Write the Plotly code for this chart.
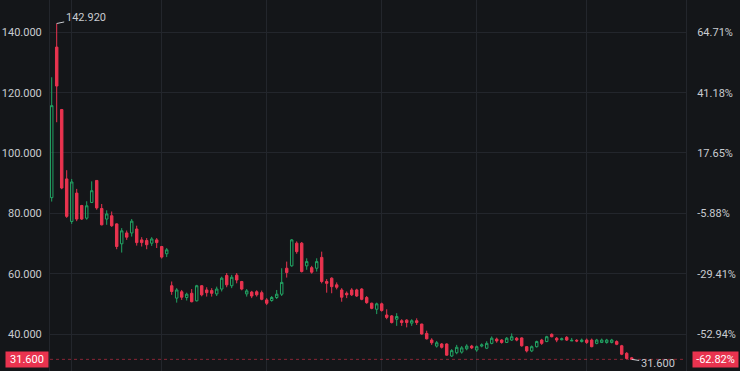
import plotly.graph_objects as go

opens = [85.2,135.1,114.4,91.4,77.3,86.7,82.6,78.4,83.6,90.9,81.6,78.1,79.2,76.5,69.9,73.5,73.5,74.8,71.2,71.0,
         70.1,71.2,69.0,66.6,56.0,51.9,54.0,52.1,53.5,51.0,56.0,54.6,54.4,53.3,54.9,59.4,56.0,59.5,57.4,53.3,
         53.9,54.0,53.7,51.3,51.1,52.1,53.2,61.8,62.6,70.1,70.1,62.6,62.0,61.8,65.4,57.4,58.5,56.3,54.6,53.5,
         54.6,54.6,54.9,52.1,50.2,48.2,50.0,46.3,46.0,44.9,44.4,44.6,43.6,44.4,43.3,40.2,38.0,36.0,36.7,36.7,
         32.7,33.8,34.0,35.1,36.0,34.7,36.0,35.3,36.9,38.3,38.0,37.2,38.0,38.6,38.7,35.8,34.4,35.8,38.0,37.5,
         39.9,38.6,38.1,38.9,37.7,37.9,37.5,38.0,38.0,36.9,37.2,37.2,37.2,37.5,36.1,33.6,32.1]
highs = [125.1,142.92,114.6,94.3,91.4,88.1,82.8,84.0,90.6,91.0,83.1,81.0,80.6,76.7,75.1,74.3,78.1,75.9,72.1,71.8,
         72.1,71.8,69.2,68.5,57.4,55.2,54.6,53.7,54.9,56.3,56.2,55.5,55.2,55.7,59.0,60.2,59.6,60.2,57.6,54.9,
         54.3,54.5,54.4,51.9,52.6,54.6,61.8,64.0,71.5,70.7,70.5,65.1,62.6,65.1,67.3,58.2,58.8,57.1,55.2,54.1,
         55.2,55.0,55.2,52.6,50.4,50.4,50.4,48.2,46.3,46.9,44.9,44.9,44.9,45.2,43.4,41.1,38.6,37.7,37.0,36.9,
         35.0,36.4,36.0,36.6,36.4,36.2,36.9,37.6,39.2,38.8,38.3,39.0,40.2,39.0,38.9,36.0,36.2,37.8,38.4,39.4,
         40.2,39.0,38.8,39.3,38.7,38.3,38.5,38.5,38.5,38.4,38.5,38.4,38.4,37.9,36.4,34.0,32.4]
lows = [83.9,110.2,88.0,78.5,76.5,77.4,77.8,77.9,83.4,81.2,76.0,76.2,75.5,68.1,67.0,71.2,72.3,69.3,69.0,68.1,
        69.2,68.5,65.0,65.5,53.0,50.4,51.3,51.1,50.5,50.8,52.5,52.4,52.4,52.6,54.1,55.5,55.2,56.8,54.5,52.4,
        51.9,52.4,51.2,49.6,50.7,51.6,52.6,58.7,62.3,66.6,60.4,61.3,60.0,60.7,56.8,53.7,53.5,54.8,50.7,51.9,
        52.6,52.3,51.2,50.0,48.2,46.6,47.4,44.9,43.5,42.7,42.7,42.2,42.7,43.0,39.8,38.2,36.4,35.5,35.2,32.8,
        32.4,33.3,33.5,34.6,35.0,34.1,35.6,35.0,36.6,37.1,36.8,37.0,37.7,37.6,35.8,33.9,34.0,35.5,36.4,37.3,
        38.9,37.3,37.9,37.7,37.7,37.3,37.2,36.7,35.6,36.6,37.0,36.8,36.9,36.3,33.0,31.7,31.6]
closes = [115.7,122.2,88.4,79.0,90.4,78.1,78.1,82.5,87.5,81.8,76.2,79.8,75.9,69.0,74.2,72.1,77.4,70.3,70.3,69.6,
          71.5,70.3,65.5,67.9,54.1,54.6,52.2,53.2,50.7,56.0,53.0,53.7,53.5,54.9,58.5,56.3,58.8,57.9,54.9,54.3,
          52.6,53.0,51.5,50.2,52.1,53.2,57.1,60.4,71.2,67.3,60.7,64.0,60.5,64.0,57.4,56.8,55.7,55.5,52.2,53.0,
          53.0,52.6,51.5,50.4,48.5,50.0,47.8,45.5,43.8,45.8,43.8,43.8,44.4,43.8,40.0,38.4,37.1,37.1,35.6,33.0,
          34.5,35.6,35.4,36.0,35.4,35.8,36.4,36.9,38.6,37.7,37.2,38.6,39.1,38.0,36.1,34.4,35.8,37.5,36.9,39.1,
          39.1,38.0,38.4,38.0,37.9,37.7,38.0,37.2,35.8,38.0,38.0,38.0,38.0,36.6,33.3,31.9,31.6]
base_price = 85.0
price_ticks = [40, 60, 80, 100, 120, 140]
grid_positions = [4, 22, 43, 66, 85, 107]

xs = list(range(len(closes)))

BG = "#141619"
GRID = "#23262c"
TXT = "#c8cbd0"
UP = "#22a363"
DOWN = "#e9334f"
FONT = "Roboto"

fig = go.Figure()
fig.add_trace(go.Candlestick(
    x=xs, open=opens, high=highs, low=lows, close=closes,
    increasing=dict(line=dict(color=UP, width=1), fillcolor="rgba(0,0,0,0)"),
    decreasing=dict(line=dict(color=DOWN, width=1), fillcolor=DOWN),
    whiskerwidth=0, hoverinfo="skip", showlegend=False,
))
fig.add_trace(go.Scatter(x=[xs[0]], y=[base_price], mode="markers", marker=dict(opacity=0),
                         yaxis="y2", hoverinfo="skip", showlegend=False))

yr = [27.74, 150.71]
last = closes[-1]
pct = lambda p: f"{(p / base_price - 1) * 100:.2f}%"

fig.update_layout(
    width=740, height=371,
    margin=dict(l=50, r=54, t=0, b=0),
    paper_bgcolor=BG, plot_bgcolor=BG,
    font=dict(family=FONT, size=11, color=TXT),
    xaxis=dict(range=[-0.34, 126.86], rangeslider=dict(visible=False),
               tickvals=grid_positions, showticklabels=False, ticks="",
               showgrid=True, gridcolor=GRID, gridwidth=1, zeroline=False,
               showline=False, fixedrange=True),
    yaxis=dict(range=yr, tickvals=price_ticks, ticktext=[f"{v:.3f}" for v in price_ticks],
               showgrid=True, gridcolor=GRID, zeroline=False, ticks="",
               ticklabelstandoff=5, showline=True, linecolor=GRID, fixedrange=True),
    yaxis2=dict(range=yr, overlaying="y", side="right", tickvals=price_ticks,
                ticktext=[pct(v) for v in price_ticks], showgrid=False, zeroline=False,
                ticks="", ticklabelstandoff=8, showline=True, linecolor=GRID, fixedrange=True),
    hovermode=False,
)

# last price dotted line
fig.add_shape(type="line", xref="paper", x0=0, x1=1, yref="y", y0=last, y1=last,
              line=dict(color="rgba(233,51,79,0.55)", width=1, dash="dot"))

# last price labels
fig.add_annotation(xref="paper", x=0, xanchor="right", xshift=-1, yref="y", y=last, yanchor="middle",
                   text=f"{last:.3f}", showarrow=False, bgcolor=DOWN, width=42, height=15,
                   borderpad=0, font=dict(color="#ffffff", size=11, family=FONT))
fig.add_annotation(xref="paper", x=1, xanchor="left", xshift=6, yref="y", y=last, yanchor="middle",
                   text=pct(last), showarrow=False, bgcolor=DOWN, width=45, height=15,
                   borderpad=0, font=dict(color="#ffffff", size=11, family=FONT))

# max / min annotations
imax = highs.index(max(highs))
imin = len(lows) - 1 - lows[::-1].index(min(lows))
fig.add_annotation(x=imax, y=highs[imax], text=f"{highs[imax]:.3f}", showarrow=True,
                   arrowhead=0, arrowwidth=1, arrowcolor=TXT, ax=29, ay=-6, standoff=0,
                   font=dict(color=TXT, size=11, family=FONT))
fig.add_annotation(x=imin, y=lows[imin], text=f"{lows[imin]:.3f}", showarrow=True,
                   arrowhead=0, arrowwidth=1, arrowcolor=TXT, ax=26, ay=4, standoff=0,
                   font=dict(color=TXT, size=11, family=FONT))

fig.write_html("out.html", config={"displayModeBar": False})
